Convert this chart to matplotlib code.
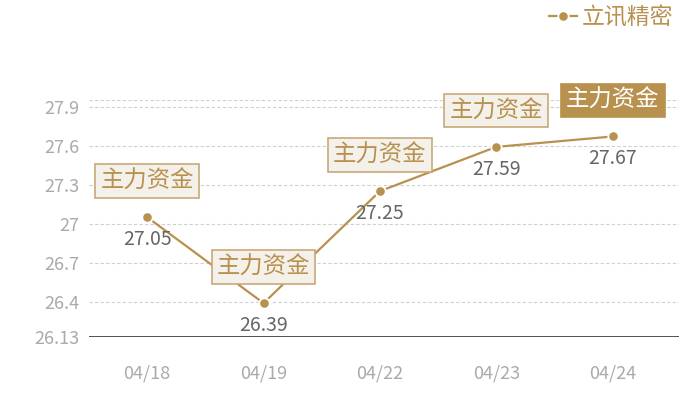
import matplotlib
matplotlib.use('Agg')
import matplotlib.pyplot as plt

plt.rcParams['font.family'] = ['Noto Sans CJK SC', 'DejaVu Sans']

# data
dates = ['04/18', '04/19', '04/22', '04/23', '04/24']
prices = [27.05, 26.39, 27.25, 27.59, 27.67]
series_name = '立讯精密'
tag_text = '主力资金'
y_ticks = [26.13, 26.4, 26.7, 27, 27.3, 27.6, 27.9]
y_tick_labels = ['26.13', '26.4', '26.7', '27', '27.3', '27.6', '27.9']
y_min, y_max = 26.13, 27.95

gold = '#b8914f'
box_face = '#f4f0ea'
box_edge = '#c9a878'

fig = plt.figure(figsize=(7, 4), dpi=100)
ax = fig.add_axes([89 / 700, 63 / 400, 590 / 700, 237 / 400])

x = list(range(len(dates)))
ax.plot(x, prices, color=gold, linewidth=1.6, marker='o', markersize=7.5,
        markerfacecolor=gold, markeredgecolor='white', markeredgewidth=1.3,
        label=series_name, zorder=3)

ax.set_xlim(-0.5, 4.57)
ax.set_ylim(y_min, y_max)

# grid lines
for v in y_ticks[1:] + [y_max]:
    ax.axhline(v, color='#d0d0d0', linewidth=0.8, linestyle=(0, (3, 2)), zorder=1)
ax.axhline(y_min, color='#333333', linewidth=1.2, zorder=2)

for s in ax.spines.values():
    s.set_visible(False)

ax.set_yticks(y_ticks)
ax.set_yticklabels(y_tick_labels)
ax.set_xticks(x)
ax.set_xticklabels(dates)
ax.tick_params(axis='y', length=0, pad=7, labelsize=13, labelcolor='#aaaaaa')
ax.tick_params(axis='x', length=0, pad=20, labelsize=13, labelcolor='#aaaaaa')
for lab in ax.get_xticklabels() + ax.get_yticklabels():
    lab.set_fontweight('light')

# value labels under points and tags above
for i, v in enumerate(prices):
    ax.annotate('%.2f' % v, (i, v), xytext=(0, -16), textcoords='offset points',
                ha='center', va='center', fontsize=14, color='#666666', zorder=5)
    last = i == len(prices) - 1
    ax.annotate(tag_text, (i, v), xytext=(0, 26), textcoords='offset points',
                ha='center', va='center', fontsize=16.8,
                color='white' if last else gold, zorder=6,
                bbox=dict(boxstyle='square,pad=0.22',
                          facecolor=gold if last else box_face,
                          edgecolor=gold if last else box_edge, linewidth=1.2))

leg = ax.legend(loc='center right', bbox_to_anchor=(673 / 700, 1 - 18 / 400),
                bbox_transform=fig.transFigure, frameon=False, fontsize=16.5,
                handlelength=1.2, handletextpad=0.2, borderpad=0, borderaxespad=0)
for t in leg.get_texts():
    t.set_color(gold)

fig.savefig('out.png', dpi=100)
